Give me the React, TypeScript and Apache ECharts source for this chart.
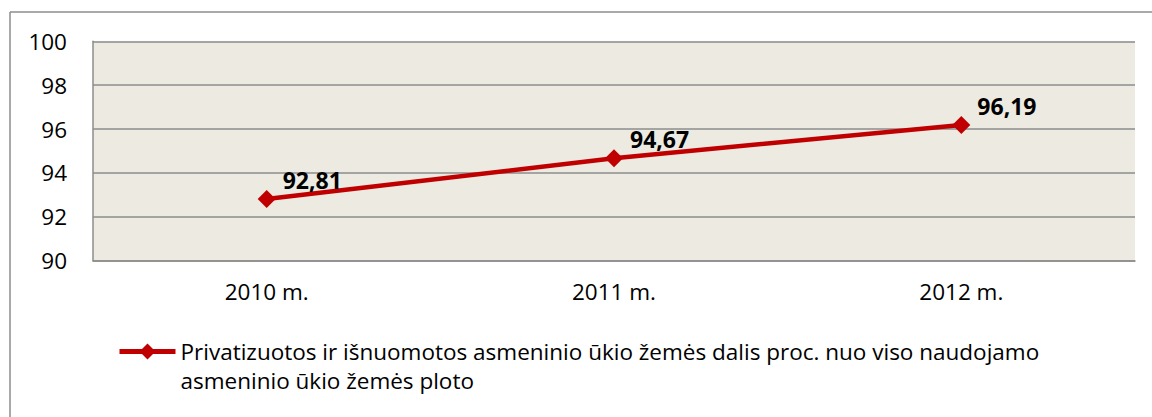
import React, { useEffect, useRef } from "react";
import * as echarts from "echarts";

const categories = ["2010 m.", "2011 m.", "2012 m."];
const values = [92.81, 94.67, 96.19];
const yTicks = [90, 92, 94, 96, 98, 100];
const legendLines = [
  "Privatizuotos ir išnuomotos asmeninio ūkio žemės dalis proc. nuo viso naudojamo",
  "asmeninio ūkio žemės ploto",
];
const seriesName = legendLines.join(" ");

const FONT = "Open Sans";
const FS = 22.5;

export default function App() {
  const ref = useRef<HTMLDivElement>(null);
  useEffect(() => {
    document.body.style.margin = "0";
    const chart = echarts.init(ref.current!, null, { renderer: "svg" });
    chart.setOption({
      animation: false,
      backgroundColor: "#ffffff",
      textStyle: { fontFamily: FONT },
      grid: { left: 93, top: 41.3, right: 17, bottom: 156.3, show: true, backgroundColor: "#ECEAE1", borderWidth: 0 },
      xAxis: {
        type: "category",
        data: categories,
        boundaryGap: true,
        axisLine: { show: true, lineStyle: { color: "#8c8c8c", width: 1.5 } },
        axisTick: { show: false },
        axisLabel: { color: "#000", fontSize: FS, fontFamily: FONT, margin: 19 },
        splitLine: { show: false },
      },
      yAxis: {
        type: "value",
        min: yTicks[0],
        max: yTicks[yTicks.length - 1],
        interval: 2,
        axisLine: { show: true, lineStyle: { color: "#8c8c8c", width: 1.5 } },
        axisTick: { show: false },
        axisLabel: { color: "#000", fontSize: FS, fontFamily: FONT, margin: 26 },
        splitLine: { show: true, lineStyle: { color: "#8c8c8c", width: 1.5 } },
      },
      legend: {
        show: true,
        left: 117,
        top: 308,
        padding: 0,
        itemWidth: 56,
        itemHeight: 20,
        itemGap: 10,
        lineStyle: { width: 5 },
        formatter: () => "\n" + legendLines.join("\n"),
        textStyle: { color: "#000", fontSize: FS, fontFamily: FONT, lineHeight: 29 },
        data: [seriesName],
      },
      series: [
        {
          type: "line",
          name: seriesName,
          data: values,
          symbol: "diamond",
          symbolSize: 18,
          lineStyle: { color: "#C00000", width: 4.5 },
          itemStyle: { color: "#C00000" },
          label: {
            show: true,
            position: "right",
            distance: 7,
            offset: [0, -19],
            color: "#000",
            fontWeight: "bold",
            fontSize: 23,
            fontFamily: FONT,
            formatter: (p: any) => String(p.value.toFixed(2)).replace(".", ","),
          },
        },
      ],
      graphic: [
        { type: "line", shape: { x1: 10, y1: 12, x2: 1152, y2: 12 }, style: { stroke: "#8c8c8c", lineWidth: 1.5 } },
        { type: "line", shape: { x1: 10, y1: 12, x2: 10, y2: 417 }, style: { stroke: "#8c8c8c", lineWidth: 1.5 } },
      ],
    });
    return () => chart.dispose();
  }, []);
  return <div ref={ref} style={{ width: 1152, height: 417 }} />;
}
